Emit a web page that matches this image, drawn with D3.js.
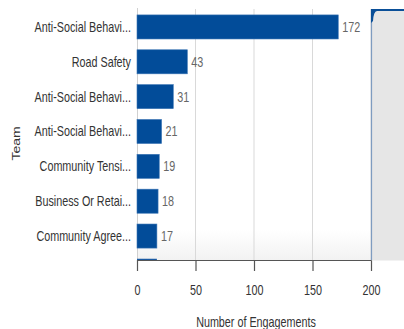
<!DOCTYPE html>
<html>
<head>
<meta charset="utf-8">
<script src="https://cdn.jsdelivr.net/npm/d3@7"></script>
<style>
  html, body { margin: 0; padding: 0; background: #fff; }
  svg { display: block; }
  text { font-family: "Liberation Sans", Arial, sans-serif; }
</style>
</head>
<body>
<script>
// Engagements per team
const teams = [
  "Anti-Social Behavi...",
  "Road Safety",
  "Anti-Social Behavi...",
  "Anti-Social Behavi...",
  "Community Tensi...",
  "Business Or Retai...",
  "Community Agree..."
];
const engagements = [172, 43, 31, 21, 19, 18, 17];
const xTicks = [0, 50, 100, 150, 200];
const xDomain = [0, 200];
const scrollExtent = [0, 17];

const W = 404, H = 329;
const m = { top: 9, right: 33, bottom: 69, left: 137 };
const iw = W - m.left - m.right, ih = H - m.top - m.bottom;
const squeeze = 0.77; // narrow glyph rendering

const svg = d3.select("body").append("svg").attr("width", W).attr("height", H);
const g = svg.append("g").attr("transform", `translate(${m.left},${m.top})`);

const x = d3.scaleLinear().domain(xDomain).range([0, iw]);
const y = d3.scaleBand().domain(d3.range(teams.length)).range([0, ih - 6]).paddingInner(0.31).paddingOuter(0.17);

// plot background with slight shade at the bottom
const defs = svg.append("defs");
const grad = defs.append("linearGradient").attr("id", "bg").attr("x1", 0).attr("x2", 0).attr("y1", 0).attr("y2", 1);
grad.append("stop").attr("offset", "0.88").attr("stop-color", "#ffffff");
grad.append("stop").attr("offset", "1").attr("stop-color", "#f2f2f2");
g.append("rect").attr("width", iw).attr("height", ih).attr("fill", "url(#bg)");

// vertical gridlines
g.selectAll("line.grid").data(xTicks.filter(d => d > 0)).join("line")
  .attr("class", "grid")
  .attr("x1", d => x(d)).attr("x2", d => x(d))
  .attr("y1", 0).attr("y2", ih)
  .attr("stroke", "#d9d9d9").attr("stroke-width", 1);

// left axis line
g.append("line").attr("x1", 0.5).attr("x2", 0.5).attr("y1", -1).attr("y2", ih)
  .attr("stroke", "#d0d0d0");

// bars
g.selectAll("rect.bar").data(engagements).join("rect")
  .attr("class", "bar")
  .attr("x", x(0))
  .attr("y", (d, i) => y(i))
  .attr("width", d => x(d) - x(0))
  .attr("height", y.bandwidth())
  .attr("fill", "#024c99")
  .attr("stroke", "#3a74b4").attr("stroke-width", 0.6);

// value labels
g.selectAll("text.val").data(engagements).join("text")
  .attr("class", "val")
  .attr("transform", (d, i) => `translate(${x(d) + 4},${y(i) + y.bandwidth() / 2}) scale(${squeeze},1)`)
  .attr("dy", "0.35em")
  .attr("font-size", 14)
  .attr("fill", "#666")
  .text(d => d);

// category labels
g.selectAll("text.cat").data(teams).join("text")
  .attr("class", "cat")
  .attr("transform", (d, i) => `translate(-6,${y(i) + y.bandwidth() / 2}) scale(${squeeze},1)`)
  .attr("dy", "0.35em")
  .attr("text-anchor", "end")
  .attr("font-size", 14)
  .attr("fill", "#333")
  .text(d => d);

// side navigator panel
const nav = svg.append("g").attr("transform", `translate(${m.left + iw},${m.top})`);
nav.append("rect").attr("x", 0.5).attr("y", 0.5).attr("width", m.right).attr("height", ih)
  .attr("fill", "#e6e6e6");
nav.append("line").attr("x1", 0.5).attr("x2", 0.5).attr("y1", 0).attr("y2", ih)
  .attr("stroke", "#7f9cc0").attr("stroke-width", 1.2);
nav.append("path")
  .attr("d", `M0,0 L${m.right},0 L${m.right},2 L6,2 Q2.5,2.5 2,12 L0,14 Z`)
  .attr("fill", "#0a4f98");

// scroll indicator along bottom of plot
g.append("line")
  .attr("x1", x(scrollExtent[0])).attr("x2", x(scrollExtent[1]))
  .attr("y1", ih - 0.5).attr("y2", ih - 0.5)
  .attr("stroke", "#1a5aa3").attr("stroke-width", 1.5);

// x axis
const xAxis = g.append("g").attr("transform", `translate(0,${ih})`);
xAxis.append("line").attr("x1", 0).attr("x2", iw).attr("y1", 0.5).attr("y2", 0.5)
  .attr("stroke", "#555").attr("stroke-width", 1.2);
xAxis.selectAll("line.tick").data(xTicks).join("line")
  .attr("class", "tick")
  .attr("x1", d => x(d) + 0.5).attr("x2", d => x(d) + 0.5)
  .attr("y1", 0).attr("y2", 11)
  .attr("stroke", "#555").attr("stroke-width", 1.2);
xAxis.selectAll("text").data(xTicks).join("text")
  .attr("transform", d => `translate(${x(d) + 0.5},35) scale(${squeeze},1)`)
  .attr("text-anchor", "middle")
  .attr("font-size", 14)
  .attr("fill", "#333")
  .text(d => d);

// axis titles
svg.append("text")
  .attr("transform", `translate(${m.left + iw / 2 + 2},327) scale(${squeeze},1)`)
  .attr("text-anchor", "middle")
  .attr("font-size", 14)
  .attr("fill", "#333")
  .text("Number of Engagements");

svg.append("text")
  .attr("transform", `translate(20,${m.top + ih / 2 + 9}) rotate(-90) scale(1,${squeeze})`)
  .attr("text-anchor", "middle")
  .attr("font-size", 14)
  .attr("fill", "#333")
  .text("Team");
</script>
</body>
</html>
